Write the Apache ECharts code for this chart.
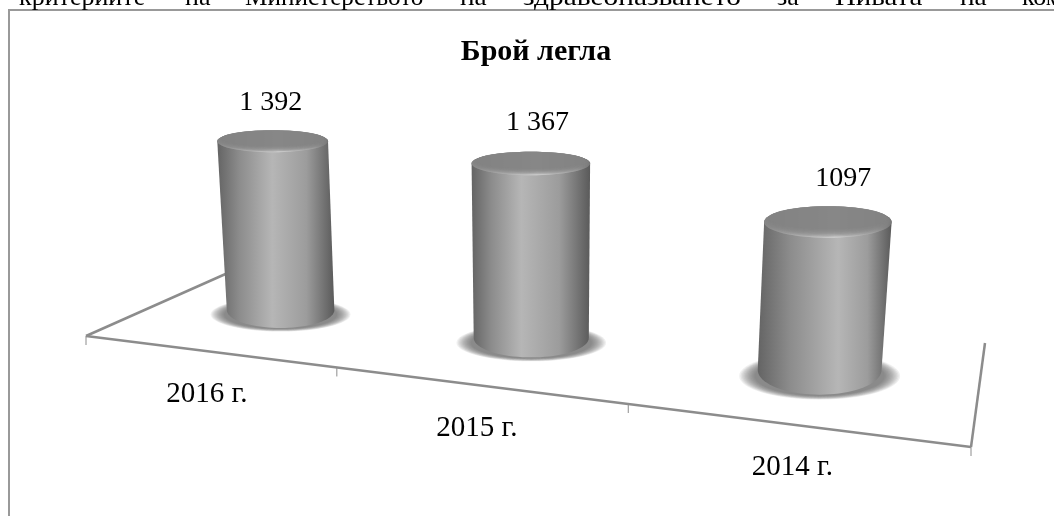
<!DOCTYPE html>
<html>
<head>
<meta charset="utf-8">
<title>Брой легла</title>
<script src="https://cdn.jsdelivr.net/npm/echarts@6/dist/echarts.min.js"></script>
<style>
html,body{margin:0;padding:0;background:#fff;overflow:hidden}
#main{width:1054px;height:516px}
</style>
</head>
<body>
<div id="main"></div>
<script>
var chartTitle = 'Брой легла';
var categories = ['2016 г.', '2015 г.', '2014 г.'];
var beds = [1392, 1367, 1097];
var bedLabels = ['1 392', '1 367', '1097'];

// cropped line of the document text above the chart
var pageWords = ['критериите', 'на', 'Министерството', 'на', 'здравеопазването', 'за', 'Нивата', 'на', 'ком'];
var pageWordX = [19, 185, 245, 460, 523, 777, 835, 960, 1022];
var pageWordScale = [1, 1, 0.97, 1.05, 1.13, 1, 1.11, 1.05, 1];

// floor corners as seen in the picture: front left, front right, back right, back left
var floorQuad = [[86, 336], [971, 447], [985, 343], [239, 268]];
var baseTilt = [0.333, 0.339, 0.40];
var topTilt = [0.198, 0.198, 0.248];
var lightStop = [0.47, 0.42, 0.6];
var font = '"Liberation Serif", "Times New Roman", serif';

var chart = echarts.init(document.getElementById('main'));

// unit square -> floor quad
var H = (function(q){
  var dx1 = q[1][0]-q[2][0], dx2 = q[3][0]-q[2][0], sx = q[0][0]-q[1][0]+q[2][0]-q[3][0];
  var dy1 = q[1][1]-q[2][1], dy2 = q[3][1]-q[2][1], sy = q[0][1]-q[1][1]+q[2][1]-q[3][1];
  var den = dx1*dy2-dx2*dy1;
  var g = (sx*dy2-dx2*sy)/den, h = (dx1*sy-sx*dy1)/den;
  return {
    a:q[1][0]-q[0][0]+g*q[1][0], b:q[3][0]-q[0][0]+h*q[3][0], c:q[0][0],
    d:q[1][1]-q[0][1]+g*q[1][1], e:q[3][1]-q[0][1]+h*q[3][1], f:q[0][1],
    g:g, h:h
  };
})(floorQuad);

function depth(u,v){ return 1+H.g*u+H.h*v; }
function project(u,v){
  var w = depth(u,v);
  return [(H.a*u+H.b*v+H.c)/w, (H.d*u+H.e*v+H.f)/w];
}

function arc(cx,cy,rx,ry,from,to){
  var pts = [];
  for(var i=0;i<=40;i++){
    var t = from+(to-from)*i/40;
    pts.push([cx+rx*Math.cos(t), cy+ry*Math.sin(t)]);
  }
  return pts;
}

function renderFloor(params,api){
  var line = function(p,q,w){
    return {type:'line',shape:{x1:p[0],y1:p[1],x2:q[0],y2:q[1]},style:{stroke:'#8c8c8c',lineWidth:w}};
  };
  var kids = [];
  kids.push(line(project(0,0),project(1,0),2.5));
  kids.push(line(project(0,0),project(0,1),2.5));
  kids.push(line(project(1,0),project(1,1),2.5));
  for(var k=0;k<=categories.length;k++){
    var p = project(k/categories.length,0);
    kids.push(line(p,[p[0],p[1]+9],1));
  }
  return {type:'group',children:kids};
}

function renderBar(params,api){
  var cs = params.coordSys;
  var i = api.value(0);
  var u = (api.coord([i,0])[0]-cs.x)/cs.width;
  var v = 0.5;
  var w = depth(u,v);
  var base = project(u,v);
  base[0] += (u-0.5)*4;
  base[1] -= 1.6;
  var h = api.size([0,api.value(1)])[1]*Math.pow(1/w,0.75);
  var rx = 57/w, ry = rx*baseTilt[i];
  var vx = 545;
  var topX = base[0]+(base[0]-vx)*0.03, topY = base[1]-h;
  var trx = rx*1.03, tryy = trx*topTilt[i];
  var s = lightStop[i];

  var side = arc(topX,topY,trx,tryy,Math.PI,2*Math.PI).concat(arc(base[0],base[1],rx,ry,0,Math.PI));
  var sideFill = new echarts.graphic.LinearGradient(0,0,1,0,[
    {offset:0,color:'#646464'},
    {offset:s*0.4,color:'#8c8c8c'},
    {offset:s,color:'#b6b6b6'},
    {offset:s+(1-s)*0.55,color:'#9c9c9c'},
    {offset:1,color:'#5a5a5a'}
  ]);
  var capFill = new echarts.graphic.LinearGradient(0,0,1,0,[
    {offset:0,color:'#8a8a8a'},
    {offset:0.15,color:'#a8a8a8'},
    {offset:0.55,color:'#f0f0f0'},
    {offset:0.88,color:'#a8a8a8'},
    {offset:1,color:'#707070'}
  ]);

  var kids = [];
  // soft floor shadow: low opacity ellipses shrinking towards the cylinder
  for(var d=0;d<12;d++){
    var t = d/11;
    kids.push({type:'ellipse',
      shape:{cx:base[0],cy:base[1]+ry*0.25,rx:rx*(1.3-0.25*t),ry:ry*(0.95-0.15*t)},
      style:{fill:'#555',opacity:0.09}});
  }
  kids.push({type:'polygon',shape:{points:side},style:{fill:sideFill}});
  kids.push({type:'ellipse',shape:{cx:topX,cy:topY,rx:trx,ry:tryy},style:{fill:capFill}});
  // bevel of the cap: ellipses hanging from its back edge, stacked to a soft rim
  for(var b=0;b<8;b++){
    var k = 1-b*0.04;
    kids.push({type:'ellipse',
      shape:{cx:topX,cy:topY-tryy*(1-k),rx:trx*(1-(1-k)*0.3),ry:tryy*k},
      style:{fill:'#848484',opacity:0.32}});
  }
  kids.push({type:'text',x:topX+(u-1/6)*26-2,y:topY-39-(u-1/6)*7,
    style:{text:bedLabels[i],font:'28px '+font,fill:'#000',align:'center',verticalAlign:'middle'}});
  return {type:'group',children:kids};
}

function renderCategory(params,api){
  var cs = params.coordSys;
  var i = api.value(0);
  var u = (api.coord([i,0])[0]-cs.x)/cs.width;
  var p = project(u,0);
  return {type:'text',x:p[0],y:p[1]+43,
    style:{text:categories[i],font:'29px '+font,fill:'#000',align:'center',verticalAlign:'middle'}};
}

var barData = [], catData = [];
for(var n=0;n<categories.length;n++){
  barData.push([n,beds[n]]);
  catData.push([n]);
}

var graphicEls = [{type:'rect',shape:{x:9,y:10,width:1200,height:800},style:{fill:'none',stroke:'#999',lineWidth:2},silent:true}];
for(var j=0;j<pageWords.length;j++){
  graphicEls.push({type:'text',x:pageWordX[j],y:-2,scaleX:pageWordScale[j],silent:true,
    style:{text:pageWords[j],font:'26px '+font,fill:'#000',align:'left',verticalAlign:'middle'}});
}

chart.setOption({
  animation:false,
  backgroundColor:'#fff',
  title:{text:chartTitle,left:531,top:32,textAlign:'center',
    textStyle:{fontFamily:font,fontSize:30,fontWeight:'bold',color:'#000'}},
  grid:{left:86,right:83,top:130,height:190},
  xAxis:{type:'category',data:categories,show:false},
  yAxis:{type:'value',min:0,max:1500,show:false},
  graphic:graphicEls,
  series:[
    {type:'custom',name:'floor',coordinateSystem:'cartesian2d',data:[[0]],renderItem:renderFloor,silent:true,clip:false,z:1},
    {type:'custom',name:'Брой легла',coordinateSystem:'cartesian2d',data:barData,encode:{x:0,y:1},renderItem:renderBar,silent:true,clip:false,z:2},
    {type:'custom',name:'години',coordinateSystem:'cartesian2d',data:catData,renderItem:renderCategory,silent:true,clip:false,z:3}
  ]
});
</script>
</body>
</html>
